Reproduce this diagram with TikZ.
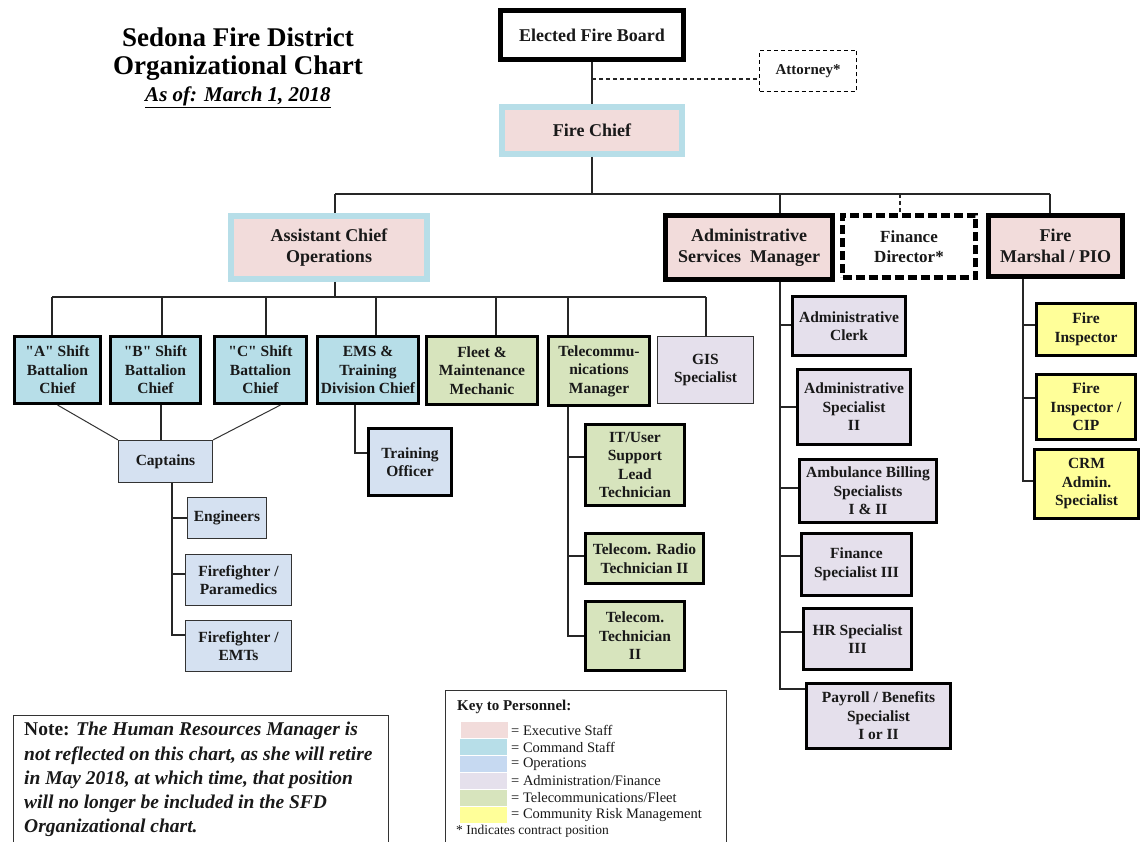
\documentclass[tikz,border=0pt]{standalone}
\usepackage{fontspec}
\setmainfont{Liberation Serif}
\definecolor{exec}{HTML}{F2DCDB}
\definecolor{cmd}{HTML}{B7DEE8}
\definecolor{ops}{HTML}{D5E1F1}
\definecolor{opskey}{HTML}{C6D9F1}
\definecolor{adm}{HTML}{E5E0EC}
\definecolor{tel}{HTML}{D7E4BD}
\definecolor{crm}{HTML}{FFFF99}
\newcommand\bxfont{\fontsize{15.5}{18.5}\selectfont\bfseries}
\newcommand\bigfont{\fontsize{18}{21.5}\selectfont\bfseries}
\newcommand\finfont{\fontsize{17}{20}\selectfont\bfseries}
\newcommand\attfont{\fontsize{15}{18}\selectfont\bfseries}
\newcommand\keyfont{\fontsize{14.5}{17}\selectfont}
\tikzset{
  conn/.style={line width=1.3pt, draw=black!85},
  thinconn/.style={line width=1pt, draw=black!80},
  bx/.style={rectangle, inner sep=0pt, align=center, font=\bxfont, text=black!90},
  sz/.style 2 args={minimum width=#1, minimum height=#2},
  heavy/.style={bx, draw=black, line width=3pt},
  light/.style={bx, draw=black!80, line width=1.2pt},
  bigbox/.style={bx, draw=black, line width=5pt, font=\bigfont},
  cmdbox/.style={bx, draw=cmd, line width=6pt, fill=exec, font=\bigfont},
  swatch/.style={rectangle, inner sep=0pt, minimum width=47, minimum height=15.5},
  keylabel/.style={anchor=west, inner sep=0pt, font=\keyfont, text=black!90},
}
\begin{document}
\begin{tikzpicture}[x=1pt, y=-1pt]
\useasboundingbox[fill=white] (0,0) rectangle (1140,842);

% Title
\node[font=\fontsize{27}{30}\selectfont\bfseries, inner sep=0pt] (t1) at (238,37) {Sedona Fire District};
\node[font=\fontsize{27}{30}\selectfont\bfseries, inner sep=0pt] (t2) at (238,68) {Organizational Chart};
\node[font=\fontsize{21}{24}\selectfont\bfseries\itshape, inner sep=0pt] (t3) at (238,97) {\underline{As of: March 1, 2018}};

% Top
\node[bigbox, fill=white, sz={183}{49}] (board) at (592,35) {Elected Fire Board};
\node[bx, draw=black, dashed, dash pattern=on 4pt off 3pt, line width=1.3pt, sz={97}{41}, font=\attfont] (att) at (808,71) {Attorney*};
\node[cmdbox, sz={180}{47}] (chief) at (592,130.5) {Fire Chief};

% Second level
\node[cmdbox, sz={196}{63}] (asst) at (329,247.5) {Assistant Chief\\Operations};
\node[bigbox, fill=exec, sz={167}{64}] (admin) at (749,247.5) {Administrative\\Services\ \ Manager};
\node[bx, draw=black, line width=5pt, dash pattern=on 9pt off 4pt, fill=white, sz={133}{62}, font=\finfont] (fin) at (909,246.5) {Finance\\Director*};
\node[bigbox, fill=exec, sz={134}{61}] (marshal) at (1055.5,246) {Fire\\Marshal / PIO};

% Operations row
\node[heavy, fill=cmd, sz={86}{67}] (A) at (57.5,370) {\textquotedbl A\textquotedbl\ Shift\\Battalion\\Chief};
\node[heavy, fill=cmd, sz={90}{67}] (B) at (155.5,370) {\textquotedbl B\textquotedbl\ Shift\\Battalion\\Chief};
\node[heavy, fill=cmd, sz={92}{67}] (C) at (260.5,370) {\textquotedbl C\textquotedbl\ Shift\\Battalion\\Chief};
\node[heavy, fill=cmd, sz={101}{67}] (EMS) at (368,370) {EMS \&\\Training\\Division Chief};
\node[heavy, fill=tel, sz={111}{68}] (fleet) at (482,370.5) {Fleet \&\\Maintenance\\Mechanic};
\node[heavy, fill=tel, sz={101}{69}] (Tel) at (599,371) {Telecommu-\\nications\\Manager};
\node[light, fill=adm, sz={96}{67}] (GIS) at (705.5,370) {GIS\\Specialist};

% Operations subordinates
\node[heavy, fill=ops, sz={83}{67}] (TO) at (410,462) {Training\\Officer};
\node[light, fill=ops, sz={94}{42}] (Cap) at (165.5,461.5) {Captains};
\node[light, fill=ops, sz={79}{41}] (Eng) at (227,518) {Engineers};
\node[light, fill=ops, sz={106}{51}] (FFP) at (238.5,580) {Firefighter /\\Paramedics};
\node[light, fill=ops, sz={106}{51}] (FFE) at (238.5,646) {Firefighter /\\EMTs};

% Telecom subordinates
\node[heavy, fill=tel, sz={99}{81}] (IT) at (635,465) {IT/User\\Support\\Lead\\Technician};
\node[heavy, fill=tel, sz={118}{50}] (Rad) at (644.5,558.5) {Telecom. Radio\\Technician II};
\node[heavy, fill=tel, sz={99}{69}] (T2) at (635,636) {Telecom.\\Technician\\II};

% Admin subordinates
\node[heavy, fill=adm, sz={113}{59}] (Clerk) at (849,326) {Administrative\\Clerk};
\node[heavy, fill=adm, sz={113}{75}] (AS2) at (854,407) {Administrative\\Specialist\\II};
\node[heavy, fill=adm, sz={137}{63}] (Amb) at (868,491) {Ambulance Billing\\Specialists\\I \& II};
\node[heavy, fill=adm, sz={110}{62}] (FinS) at (856.5,564.5) {Finance\\Specialist III};
\node[heavy, fill=adm, sz={108}{61}] (HR) at (857.5,639) {HR Specialist\\III};
\node[heavy, fill=adm, sz={144}{65}] (Pay) at (878.5,716) {Payroll / Benefits\\Specialist\\I or II};

% Fire marshal subordinates
\node[heavy, fill=crm, sz={99}{52}] (FI) at (1086,329.5) {Fire\\Inspector};
\node[heavy, fill=crm, sz={99}{65}] (FIC) at (1086,407) {Fire\\Inspector /\\CIP};
\node[heavy, fill=crm, sz={104}{69}] (CRM) at (1086.5,484) {CRM\\Admin.\\Specialist};

% Connectors: top
\coordinate (barL) at (335,194);
\coordinate (barR) at (1050,194);
\draw[conn] (board.south) -- (chief.north);
\draw[conn, dash pattern=on 4pt off 3pt] ([yshift=-17pt]board.south) -- ([yshift=-8pt]att.west);
\draw[conn] (chief.south) -- (chief.south |- barL);
\draw[conn] (barL) -- (barR);
\draw[conn] (barL) -- (barL |- asst.north);
\draw[conn] (barR) -- (barR |- marshal.north);
\coordinate (tAdm) at ([xshift=31pt]admin.north);
\draw[conn] (tAdm |- barL) -- (tAdm);
\coordinate (tFin) at ([xshift=-9pt]fin.north);
\draw[conn, dash pattern=on 4pt off 3pt] (tFin |- barL) -- (tFin);

% Connectors: operations bar
\coordinate (bar2L) at (52,297);
\coordinate (bar2R) at (706,297);
\coordinate (aS) at ([xshift=6pt]asst.south);
\draw[conn] (aS) -- (aS |- bar2L);
\draw[conn] (bar2L) -- (bar2R);
\coordinate (tA) at ([xshift=-5.5pt]A.north);
\coordinate (tB) at ([xshift=6.5pt]B.north);
\coordinate (tC) at ([xshift=5.5pt]C.north);
\coordinate (tE) at ([xshift=8pt]EMS.north);
\coordinate (tF) at ([xshift=14pt]fleet.north);
\coordinate (tT) at ([xshift=-31pt]Tel.north);
\draw[conn] (tA |- bar2L) -- (tA);
\draw[conn] (tB |- bar2L) -- (tB);
\draw[conn] (tC |- bar2L) -- (tC);
\draw[conn] (tE |- bar2L) -- (tE);
\draw[conn] (tF |- bar2L) -- (tF);
\draw[conn] (tT |- bar2L) -- (tT);
\draw[conn] (bar2R) -- (bar2R |- GIS.north);

% EMS to training officer
\coordinate (eT) at ([xshift=-13pt]EMS.south);
\draw[conn] (eT) |- ([yshift=9pt]TO.west);

% Battalion chiefs to captains
\draw[thinconn] (A.south) -- (Cap.north west);
\coordinate (bB) at ([xshift=5.5pt]B.south);
\draw[conn] (bB) -- (bB |- Cap.north);
\draw[thinconn] ([xshift=20pt]C.south) -- (Cap.north east);

% Captains down
\coordinate (cL) at ([xshift=6.5pt]Cap.south);
\draw[conn] (cL) |- (Eng.west);
\draw[conn] (cL) |- ([yshift=6pt]FFP.west);
\draw[conn] (cL) |- ([yshift=11pt]FFE.west);

% Telecom down
\coordinate (tL) at ([xshift=-31pt]Tel.south);
\draw[conn] (tL) |- ([yshift=8pt]IT.west);
\draw[conn] (tL) |- ([yshift=2.5pt]Rad.west);
\draw[conn] (tL) |- (T2.west);

% Admin down
\coordinate (aL) at ([xshift=31pt]admin.south);
\draw[conn] (aL) |- ([yshift=1pt]Clerk.west);
\draw[conn] (aL) |- (AS2.west);
\draw[conn] (aL) |- ([yshift=3pt]Amb.west);
\draw[conn] (aL) |- ([yshift=8.5pt]FinS.west);
\draw[conn] (aL) |- ([yshift=7pt]HR.west);
\draw[conn] (aL) |- ([yshift=27pt]Pay.west);

% Fire marshal down
\coordinate (mL) at ([xshift=-32.5pt]marshal.south);
\draw[conn] (mL) |- ([yshift=4.5pt]FI.west);
\draw[conn] (mL) |- ([yshift=9pt]FIC.west);
\draw[conn] (mL) |- ([yshift=3pt]CRM.west);

% Note box
\node[draw=black!80, line width=1.2pt, anchor=north west, inner sep=0pt, minimum width=375, minimum height=150] (note) at (13,715) {};
\node[anchor=north west, inner sep=0pt, align=left, font=\fontsize{19.5}{24.3}\selectfont\bfseries, text=black!90] (notetext) at (24,722)
 {Note: \textit{The Human Resources Manager is}\\
  \textit{not reflected on this chart, as she will retire}\\
  \textit{in May 2018, at which time, that position}\\
  \textit{will no longer be included in the SFD}\\
  \textit{Organizational chart.}};

% Key box
\node[draw=black!80, line width=1.2pt, anchor=north west, inner sep=0pt, minimum width=281, minimum height=170] (key) at (445,690) {};
\node[anchor=west, inner sep=0pt, font=\fontsize{15}{18}\selectfont\bfseries, text=black!90] (keytitle) at (457,707) {Key to Personnel:};
\node[swatch, fill=exec] (k1) at (484,730) {};
\node[swatch, fill=cmd] (k2) at (483,747) {};
\node[swatch, fill=opskey] (k3) at (483,764) {};
\node[swatch, fill=adm] (k4) at (483,781) {};
\node[swatch, fill=tel] (k5) at (483,798) {};
\node[swatch, fill=crm] (k6) at (483,815) {};
\node[keylabel] (l1) at (511,730) {= Executive Staff};
\node[keylabel] (l2) at (511,747) {= Command Staff};
\node[keylabel] (l3) at (511,764) {= Operations};
\node[keylabel] (l4) at (511,781) {= Administration/Finance};
\node[keylabel] (l5) at (511,798) {= Telecommunications/Fleet};
\node[keylabel] (l6) at (511,815) {= Community Risk Management};
\node[anchor=west, inner sep=0pt, font=\fontsize{13.5}{16}\selectfont, text=black!90] (foot) at (456,831) {* Indicates contract position};
\end{tikzpicture}
\end{document}
